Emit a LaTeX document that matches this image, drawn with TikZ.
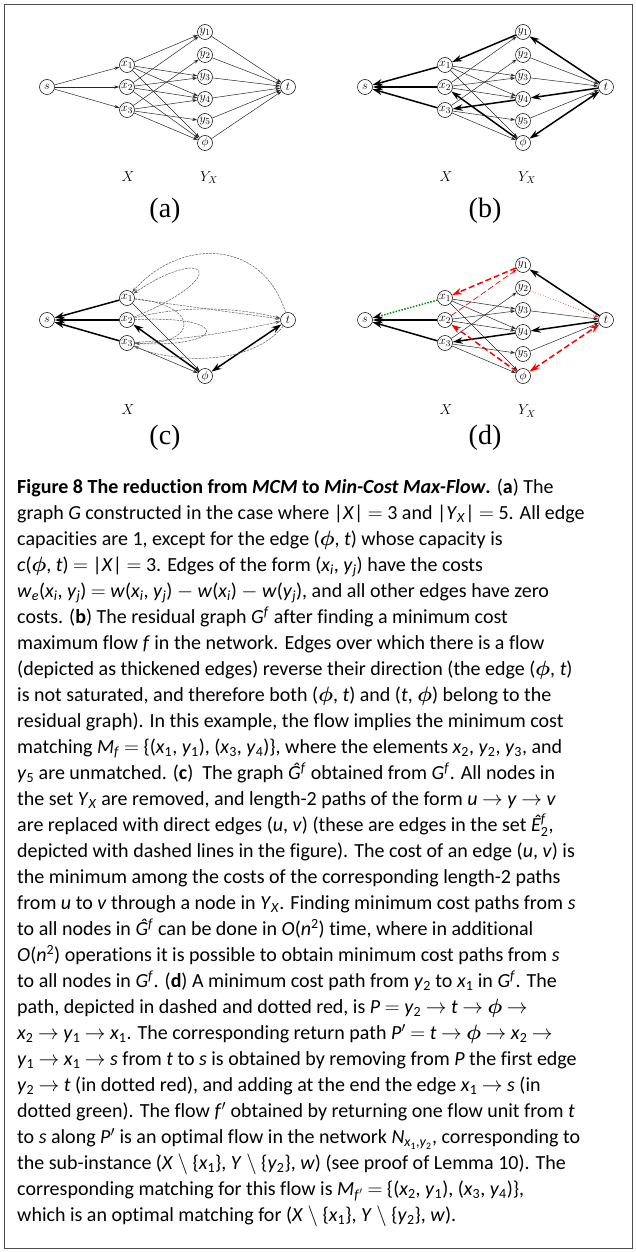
\documentclass[tikz,border=0pt]{standalone}
\usepackage{amsmath,amssymb}
\usepackage{fontspec}
\setmainfont{Carlito}[Ligatures=NoCommon]
\newfontfamily\panelfont{Liberation Serif}
\usetikzlibrary{arrows.meta}

% caption helpers
\newcommand{\iv}[1]{\textit{#1}}
\newcommand{\isub}[2]{\textit{#1}\textsubscript{#2}}
\newcommand{\rarr}{$\rightarrow$}
\newcommand{\bphi}{$\boldsymbol{\phi}$}
\newcommand{\Gres}{\textit{G}\textsuperscript{\textit{f}}}
\newcommand{\hatG}{\textit{\^G}\textsuperscript{\textit{f}}}
\newcommand{\hatE}{\textit{\^E}\ensuremath{{}^{\textit{f}}_{\mathrm{2}}}}

\begin{document}
\begin{tikzpicture}[x=1pt, y=-1pt,
    vert/.style={draw, circle, inner sep=0pt, minimum size=15pt,
      line width=0.5pt, fill=white, font=\fontsize{12.5}{12.5}\selectfont},
    edge/.style={-{Stealth[length=5pt, width=3.2pt]}, line width=0.5pt, black!85},
    flow/.style={-{Stealth[length=10pt, width=6.5pt]}, line width=1.5pt},
    flowboth/.style={{Stealth[length=10pt, width=6.5pt]}-{Stealth[length=10pt, width=6.5pt]},
      line width=1.5pt},
    hatedge/.style={-{Stealth[length=5pt, width=3.2pt]}, line width=0.5pt,
      black!65, dash pattern=on 2.5pt off 1pt},
    reddash/.style={red, dash pattern=on 6pt off 3pt},
    reddot/.style={-{Stealth[length=5pt, width=3.2pt]}, red!80, line width=0.7pt, dotted},
    greendot/.style={-{Stealth[length=10pt, width=6.5pt, color=black]}, green!55!black,
      line width=1.5pt, dash pattern=on 1.5pt off 1.5pt},
    setlabel/.style={font=\fontsize{14}{14}\selectfont},
    panel/.style={font=\panelfont\fontsize{28}{28}\selectfont},
  ]
  \useasboundingbox (0,0) rectangle (636,1252);
  \draw[line width=0.6pt, black!70] (4,4) rectangle (632,1248);

  % Vertices, same layout in all four panels
  \foreach \p/\dx/\dy in {a/0/0, b/318/0, c/0/233, d/318/233} {
    \begin{scope}[shift={(\dx,\dy)}]
      \node[vert] (\p-s)  at (47,87)  {$s$};
      \node[vert] (\p-x1) at (127,65) {$x_1$};
      \node[vert] (\p-x2) at (127,87) {$x_2$};
      \node[vert] (\p-x3) at (127,110) {$x_3$};
      \node[vert] (\p-ph) at (205,143) {$\phi$};
      \node[vert] (\p-t)  at (288,87) {$t$};
      \node[setlabel] (\p-X) at (128,177) {$X$};
    \end{scope}
  }
  \foreach \p/\dx/\dy in {a/0/0, b/318/0, d/318/233} {
    \begin{scope}[shift={(\dx,\dy)}]
      \foreach \j/\yy in {1/32, 2/55, 3/77, 4/99, 5/121}
        \node[vert] (\p-y\j) at (205,\yy) {$y_{\j}$};
      \node[setlabel] (\p-Y) at (209,178) {$Y_X$};
    \end{scope}
  }
  \node[panel] (lab-a) at (165,211) {(a)};
  \node[panel] (lab-b) at (485,211) {(b)};
  \node[panel] (lab-c) at (165,438) {(c)};
  \node[panel] (lab-d) at (485,438) {(d)};

  % (a) the network G
  \foreach \i in {1,2,3} \draw[edge] (a-s) -- (a-x\i);
  \foreach \i/\j in {1/y1,1/y3,1/y4,1/ph,2/y1,2/y3,2/y4,2/ph,3/y2,3/y4,3/y5,3/ph}
    \draw[edge] (a-x\i) -- (a-\j);
  \foreach \j in {y1,y2,y3,y4,y5,ph} \draw[edge] (a-\j) -- (a-t);

  % (b) residual graph
  \foreach \i/\j in {1/y3,1/y4,1/ph,2/y1,2/y3,2/y4,3/y2,3/y5,3/ph}
    \draw[edge] (b-x\i) -- (b-\j);
  \foreach \j in {y2,y3,y5} \draw[edge] (b-\j) -- (b-t);
  \foreach \i in {1,2,3} \draw[flow] (b-x\i) -- (b-s);
  \draw[flow] (b-y1) -- (b-x1);
  \draw[flow] (b-y4) -- (b-x3);
  \draw[flow] (b-ph) -- (b-x2);
  \draw[flow] (b-t) -- (b-y1);
  \draw[flow] (b-t) -- (b-y4);
  \draw[flowboth] (b-ph) -- (b-t);

  % (c) graph without Y_X
  \foreach \i in {1,2,3} \draw[flow] (c-x\i) -- (c-s);
  \draw[flow] (c-ph) -- (c-x2);
  \draw[flowboth] (c-ph) -- (c-t);
  \draw[edge] (c-x1) -- (c-ph);
  \draw[edge] (c-x3) -- (c-ph);
  \draw[hatedge] (c-t) .. controls (262,238) and (180,238) .. (c-x1);
  \draw[hatedge] (c-x2) .. controls (235,275) and (205,245) .. (c-x1);
  \draw[hatedge] (c-x1) .. controls (200,305) and (200,345) .. (c-x3);
  \draw[hatedge] (c-x2) .. controls (235,315) and (225,348) .. (c-x3);
  \draw[hatedge] (c-x1) -- (c-t);
  \draw[hatedge] (c-x2) .. controls (180,306) and (230,306) .. (c-t);
  \draw[hatedge] (c-x3) .. controls (200,338) and (240,330) .. (c-t);
  \draw[hatedge] (c-t) .. controls (250,368) and (170,362) .. (c-x3);

  % (d) path P and return path
  \foreach \i/\j in {1/y3,1/y4,1/ph,2/y3,2/y4,3/y2,3/y5,3/ph}
    \draw[edge] (d-x\i) -- (d-\j);
  \foreach \j in {y3,y5} \draw[edge] (d-\j) -- (d-t);
  \draw[greendot] (d-x1) -- (d-s);
  \draw[flow] (d-x2) -- (d-s);
  \draw[flow] (d-x3) -- (d-s);
  \draw[flow] (d-t) -- (d-y1);
  \draw[flow] (d-t) -- (d-y4);
  \draw[flow] (d-y4) -- (d-x3);
  \draw[reddot] (d-y2) -- (d-t);
  \draw[edge, reddash, line width=0.7pt] (d-x2) -- (d-y1);
  \draw[flow, reddash] (d-y1) -- (d-x1);
  \draw[flow, reddash] (d-ph) -- (d-x2);
  \draw[flowboth, reddash] (d-ph) -- (d-t);

  % Caption
  \node[anchor=north west, inner sep=0pt, align=left,
    font=\fontsize{20}{26}\selectfont] (caption) at (17,479) {%
\textbf{Figure 8 The reduction from \textit{MCM} to \textit{Min-Cost Max-Flow}.} (\textbf{a}) The\\
graph \iv{G} constructed in the case where |\iv{X}| $=$ 3 and |\isub{Y}{\iv{X}}| $=$ 5. All edge\\
capacities are 1, except for the edge (\bphi, \iv{t}) whose capacity is\\
\iv{c}(\bphi, \iv{t}) $=$ |\iv{X}| $=$ 3. Edges of the form (\isub{x}{\iv{i}}, \isub{y}{\iv{j}}) have the costs\\
\isub{w}{\iv{e}}(\isub{x}{\iv{i}}, \isub{y}{\iv{j}}) $=$ \iv{w}(\isub{x}{\iv{i}}, \isub{y}{\iv{j}}) $-$ \iv{w}(\isub{x}{\iv{i}}) $-$ \iv{w}(\isub{y}{\iv{j}}), and all other edges have zero\\
costs. (\textbf{b}) The residual graph \Gres\ after finding a minimum cost\\
maximum flow \iv{f} in the network. Edges over which there is a flow\\
(depicted as thickened edges) reverse their direction (the edge (\bphi, \iv{t})\\
is not saturated, and therefore both (\bphi, \iv{t}) and (\iv{t}, \bphi) belong to the\\
residual graph). In this example, the flow implies the minimum cost\\
matching \isub{M}{\iv{f}} $=$ \{(\isub{x}{1}, \isub{y}{1}), (\isub{x}{3}, \isub{y}{4})\}, where the elements \isub{x}{2}, \isub{y}{2}, \isub{y}{3}, and\\
\isub{y}{5} are unmatched. (\textbf{c})\ \ The graph \hatG\ obtained from \Gres. All nodes in\\
the set \isub{Y}{\iv{X}} are removed, and length-2 paths of the form \iv{u} \rarr\ \iv{y} \rarr\ \iv{v}\\
are replaced with direct edges (\iv{u}, \iv{v}) (these are edges in the set \hatE,\\
depicted with dashed lines in the figure). The cost of an edge (\iv{u}, \iv{v}) is\\
the minimum among the costs of the corresponding length-2 paths\\
from \iv{u} to \iv{v} through a node in \isub{Y}{\iv{X}}. Finding minimum cost paths from \iv{s}\\
to all nodes in \hatG\ can be done in \iv{O}(\iv{n}\textsuperscript{2}) time, where in additional\\
\iv{O}(\iv{n}\textsuperscript{2}) operations it is possible to obtain minimum cost paths from \iv{s}\\
to all nodes in \Gres. (\textbf{d}) A minimum cost path from \isub{y}{2} to \isub{x}{1} in \Gres. The\\
path, depicted in dashed and dotted red, is \iv{P} $=$ \isub{y}{2} \rarr\ \iv{t} \rarr\ \bphi\ \rarr\\
\isub{x}{2} \rarr\ \isub{y}{1} \rarr\ \isub{x}{1}. The corresponding return path \iv{P}$'$ $=$ \iv{t} \rarr\ \bphi\ \rarr\ \isub{x}{2} \rarr\\
\isub{y}{1} \rarr\ \isub{x}{1} \rarr\ \iv{s} from \iv{t} to \iv{s} is obtained by removing from \iv{P} the first edge\\
\isub{y}{2} \rarr\ \iv{t} (in dotted red), and adding at the end the edge \isub{x}{1} \rarr\ \iv{s} (in\\
dotted green). The flow \iv{f}$'$ obtained by returning one flow unit from \iv{t}\\
to \iv{s} along \iv{P}$'$ is an optimal flow in the network \iv{N}\textsubscript{\iv{x}\textsubscript{1},\iv{y}\textsubscript{2}}, corresponding to\\
the sub-instance (\iv{X} $\setminus$ \{\isub{x}{1}\}, \iv{Y} $\setminus$ \{\isub{y}{2}\}, \iv{w}) (see proof of Lemma 10). The\\
corresponding matching for this flow is \isub{M}{\iv{f}$'$} $=$ \{(\isub{x}{2}, \isub{y}{1}), (\isub{x}{3}, \isub{y}{4})\},\\
which is an optimal matching for (\iv{X} $\setminus$ \{\isub{x}{1}\}, \iv{Y} $\setminus$ \{\isub{y}{2}\}, \iv{w}).};
\end{tikzpicture}
\end{document}
